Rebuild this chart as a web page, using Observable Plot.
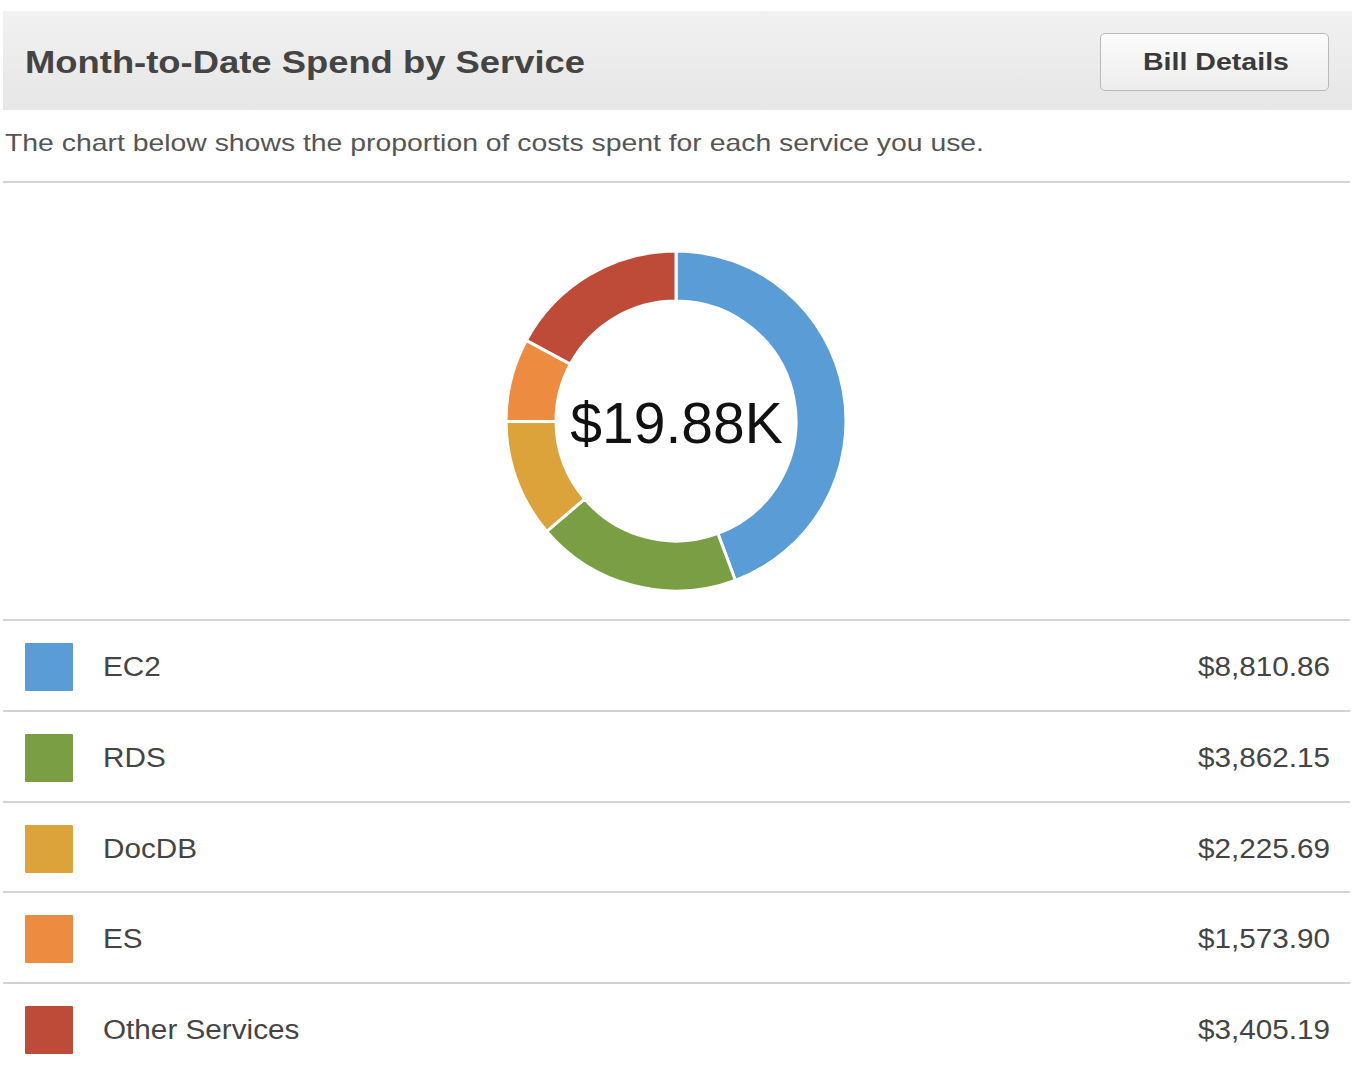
<!DOCTYPE html>
<html>
<head>
<meta charset="utf-8">
<script src="https://cdn.jsdelivr.net/npm/d3@7"></script>
<script src="https://cdn.jsdelivr.net/npm/@observablehq/plot@0.6"></script>
<style>
  html, body { margin: 0; padding: 0; background: #fff; }
  body { width: 1362px; height: 1071px; position: relative; overflow: hidden; font-family: "Liberation Sans", Arial, Helvetica, sans-serif; }
  .abs { position: absolute; }
  #header { left: 3px; top: 11px; width: 1349px; height: 99px; background: linear-gradient(#f1f1f1, #e6e6e6); }
  #title { left: 25px; top: 40px; font-size: 32px; font-weight: bold; color: #444; white-space: nowrap; transform-origin: left center; line-height: 44px; top: 40px; }
  #btn { left: 1100px; top: 33px; width: 227px; height: 56px; border: 1.5px solid #b8b8b8; border-radius: 5px; background: linear-gradient(#fbfbfb, #ededed); }
  #btnText { left: 1143px; top: 44px; font-size: 24px; font-weight: bold; color: #3a3a3a; white-space: nowrap; transform-origin: left center; line-height: 36px; }
  #subtitle { left: 5px; top: 126px; font-size: 24px; color: #555; white-space: nowrap; transform-origin: left center; line-height: 34px; }
  .rule { left: 3px; width: 1347px; height: 2px; background: #d3d3d3; }
  #chart { left: 0; top: 211px; width: 1362px; height: 420px; }
  .swatch { left: 25px; width: 48px; height: 48px; border-radius: 1px; }
  .label { left: 103px; font-size: 27px; color: #444; white-space: nowrap; transform-origin: left center; line-height: 40px; transform: scaleX(1.1); }
  .value { right: 32px; font-size: 27px; color: #444; white-space: nowrap; transform-origin: right center; line-height: 40px; transform: scaleX(1.1); }
</style>
</head>
<body>
<div id="header" class="abs"></div>
<div id="title" class="abs">Month-to-Date Spend by Service</div>
<div id="btn" class="abs"></div>
<div id="btnText" class="abs">Bill Details</div>
<div id="subtitle" class="abs">The chart below shows the proportion of costs spent for each service you use.</div>
<div class="abs rule" style="top:181px"></div>
<div id="chart" class="abs"></div>
<div id="legend"></div>
<script>
// ---- data ----
const services = ["EC2", "RDS", "DocDB", "ES", "Other Services"];
const costs = [8810.86, 3862.15, 2225.69, 1573.90, 3405.19];
const colors = ["#5a9dd6", "#799e44", "#dca33a", "#ed8b40", "#be4a38"];
const totalLabel = "$19.88K";

const rows = services.map((s, i) => ({service: s, value: costs[i]}));

// fit text widths (reference is slightly horizontally stretched)
function fitWidth(id, target) {
  const el = document.getElementById(id);
  const w = el.getBoundingClientRect().width;
  el.style.transform = `scaleX(${target / w})`;
}
fitWidth("title", 560);
fitWidth("subtitle", 979);
fitWidth("btnText", 146);

// ---- donut ----
const innerR = 120, outerR = 170;
function donut(index, scales) {
  const cx = scales.x(0), cy = scales.y(0);
  const k = Math.abs(scales.x(1) - scales.x(0));
  const arcs = d3.pie().sort(null).value(d => d.value)(rows);
  const arc = d3.arc().innerRadius(innerR * k).outerRadius(outerR * k);
  const g = d3.create("svg:g").attr("transform", `translate(${cx},${cy})`);
  g.selectAll("path").data(arcs).join("path")
    .attr("d", arc)
    .attr("fill", d => scales.color(d.data.service))
    .attr("stroke", "white")
    .attr("stroke-width", 3)
    .attr("stroke-linejoin", "round");
  return g.node();
}

const chart = Plot.plot({
  width: 1362,
  height: 420,
  margin: 0,
  style: {background: "transparent", fontFamily: "'Liberation Sans', Arial, sans-serif"},
  x: {domain: [-210, 210], range: [466, 886], axis: null},
  y: {domain: [-210, 210], range: [0, 420], axis: null},
  color: {domain: services, range: colors},
  marks: [
    Plot.dot(rows, {x: () => 0, y: () => 0, fill: "service", r: 0}),
    donut,
    Plot.text([totalLabel], {x: () => 0, y: () => 0, text: d => d, fontSize: 57, fill: "#111", textAnchor: "middle", lineAnchor: "middle", dy: 3})
  ]
});
document.getElementById("chart").appendChild(chart);

// ---- legend rows ----
const legend = document.getElementById("legend");
const fmt = d3.format("$,.2f");
const rowTop = [619, 710, 801, 891, 982];
rows.forEach((r, i) => {
  const t = rowTop[i];
  legend.insertAdjacentHTML("beforeend",
    `<div class="abs rule" style="top:${t}px"></div>
     <div class="abs swatch" style="top:${t + 24}px;background:${colors[i]}"></div>
     <div class="abs label" style="top:${t + 28}px">${r.service}</div>
     <div class="abs value" style="top:${t + 28}px">${fmt(r.value)}</div>`);
});
</script>
</body>
</html>
